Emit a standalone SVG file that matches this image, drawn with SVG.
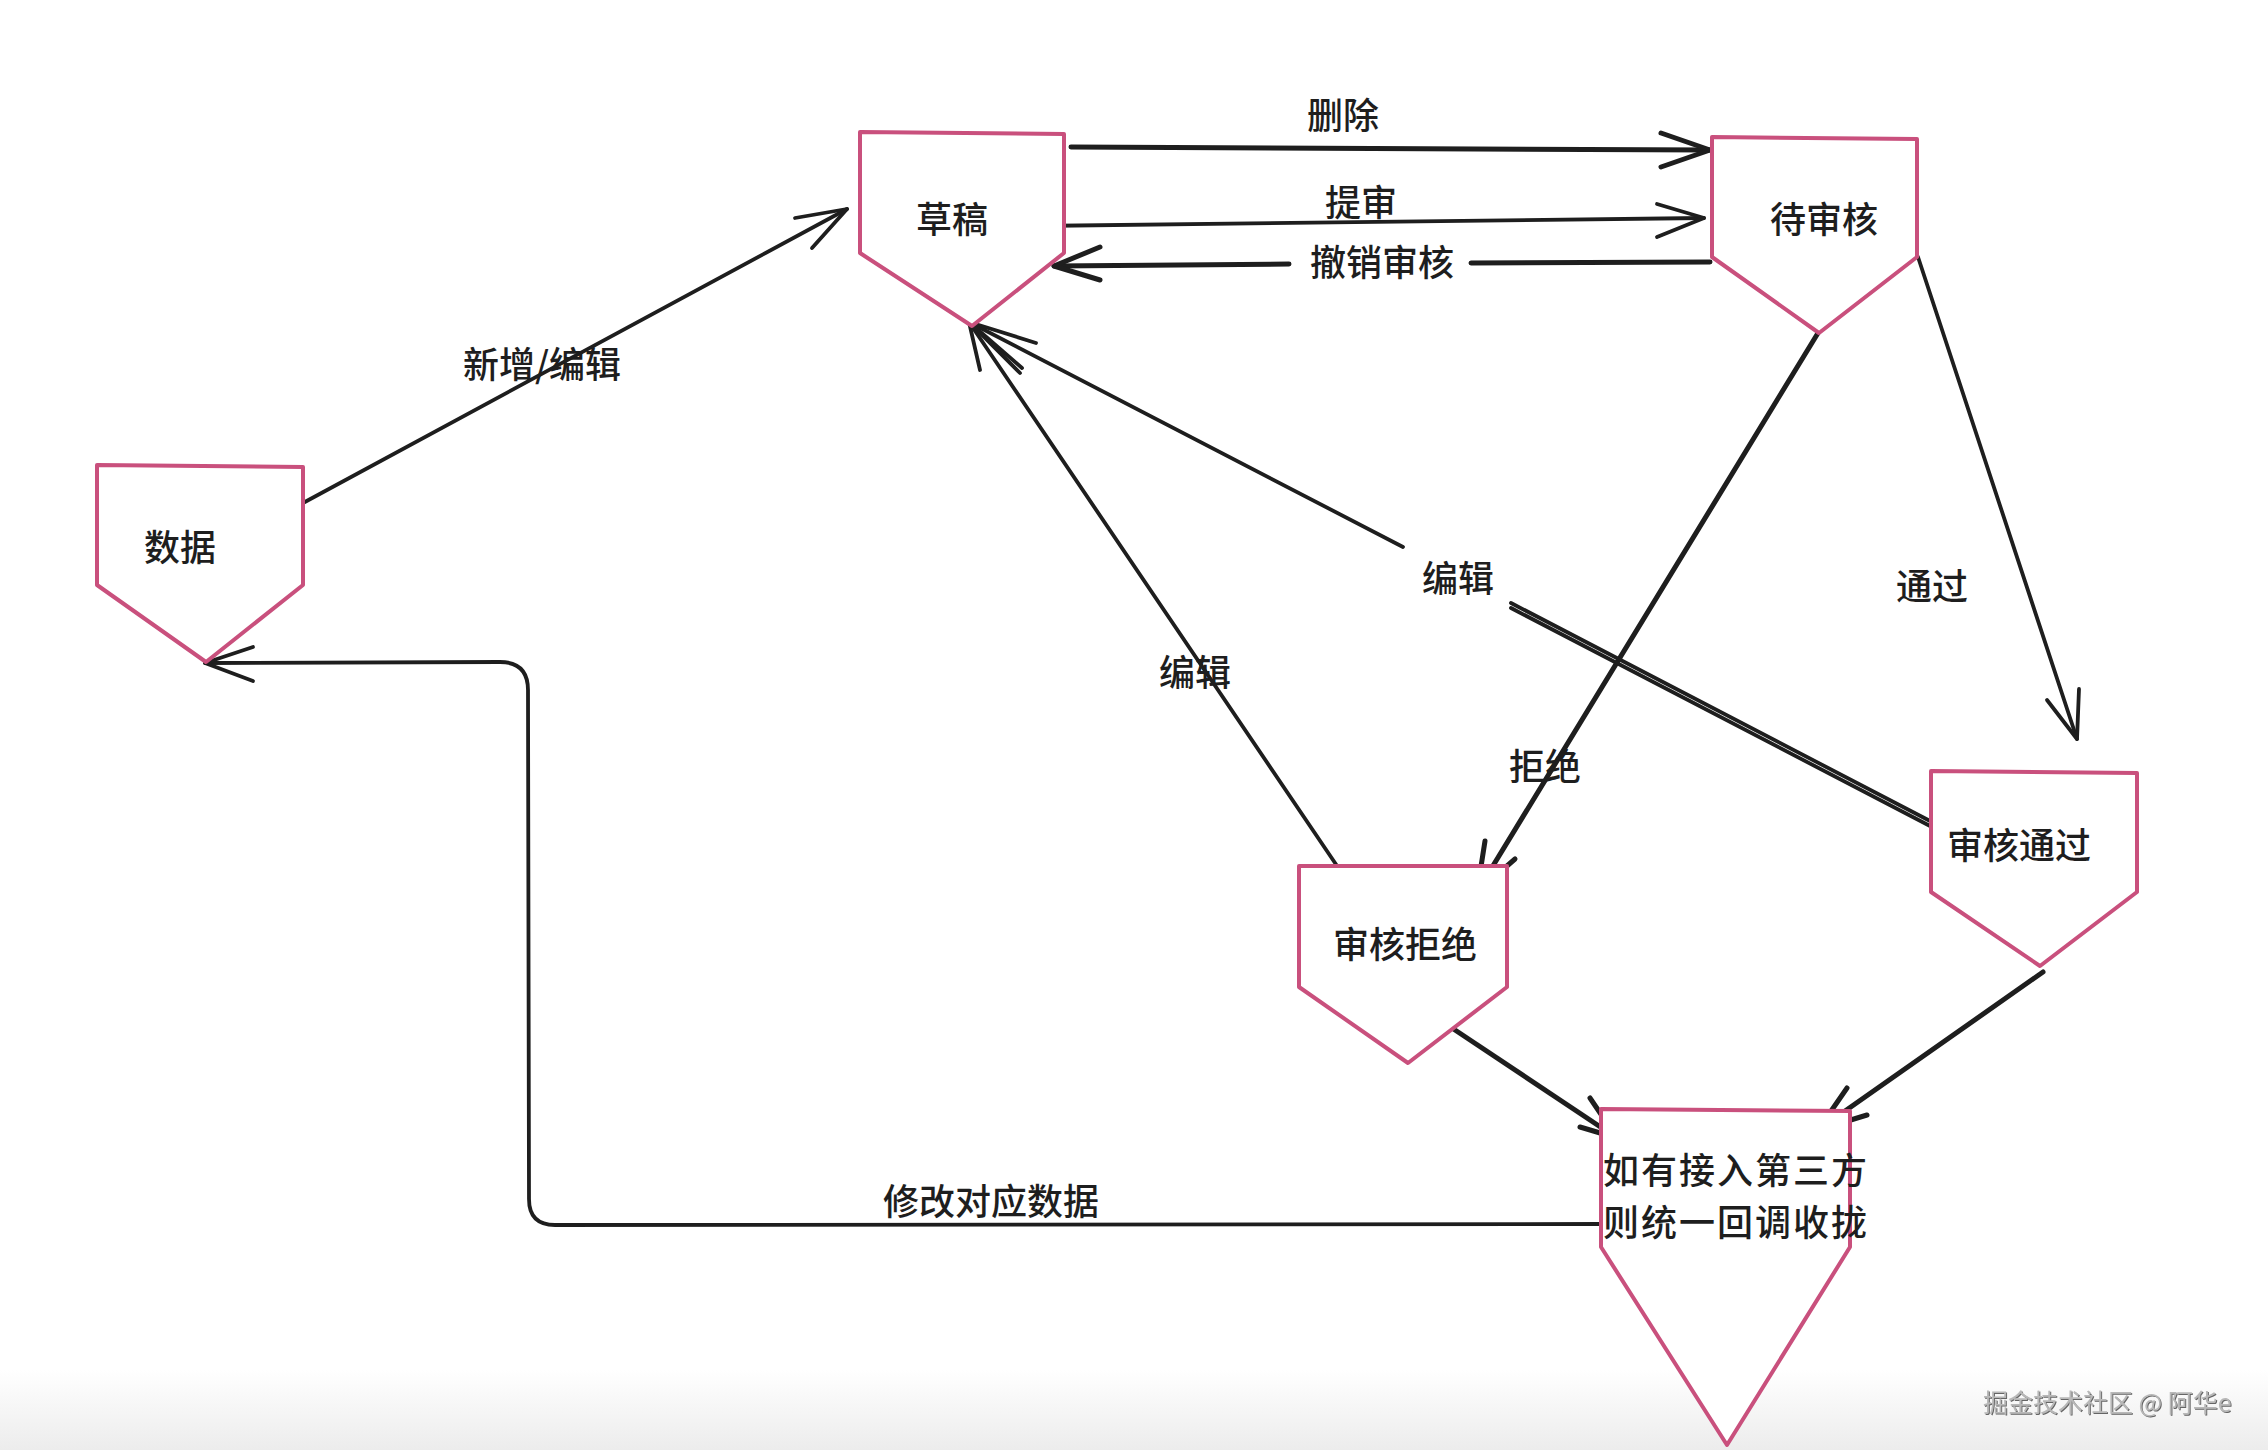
<svg xmlns="http://www.w3.org/2000/svg" width="2268" height="1450" viewBox="0 0 2268 1450">
<style>
.node{fill:#ffffff;stroke:#c9507d;stroke-width:4;stroke-linejoin:round}
.t{font-family:"Noto Sans CJK SC","Noto Sans",sans-serif;font-size:36px;font-weight:500;fill:#1e1e1e;text-anchor:middle;dominant-baseline:central}
.e{fill:none;stroke:#1e1e1e;stroke-width:3.8;stroke-linecap:round;stroke-linejoin:round}
.thick{stroke-width:5}
.wm{font-family:"Noto Sans CJK SC","Noto Sans",sans-serif;font-size:25px;fill:#b8b8b8;dominant-baseline:central}
</style>
<defs>
<linearGradient id="bg" x1="0" y1="0" x2="0" y2="1">
<stop offset="0" stop-color="#ffffff"/>
<stop offset="1" stop-color="#ececec"/>
</linearGradient>
<filter id="sh" x="-10%" y="-50%" width="120%" height="200%">
<feDropShadow dx="1" dy="1" stdDeviation="0.6" flood-color="#555555" flood-opacity="0.9"/>
</filter>
</defs>
<rect x="0" y="0" width="2268" height="1450" fill="#ffffff"/>
<rect x="0" y="1370" width="2268" height="80" fill="url(#bg)"/>

<g id="connectors">
<g id="e-delete">
<path class="e thick" d="M1071,147 L1710,150"/>
<path class="e thick" d="M1661,133 L1710,150 L1661,167"/>
<text class="t" x="1343" y="113">删除</text>
</g>
<g id="e-submit">
<path class="e" d="M1035,226 L1704,218"/>
<path class="e" d="M1657,204 L1704,218 L1657,237"/>
<text class="t" x="1361" y="200">提审</text>
</g>
<g id="e-revoke">
<path class="e thick" d="M1710,262 L1471,263"/>
<path class="e thick" d="M1289,264 L1054,266"/>
<path class="e thick" d="M1100,247 L1054,266 L1100,280"/>
<text class="t" x="1382" y="260">撤销审核</text>
</g>
<g id="e-add">
<path class="e" d="M303,503 L847,209"/>
<path class="e" d="M795,218 L847,209 L812,248"/>
<text class="t" x="542" y="362">新增/编辑</text>
</g>
<g id="e-reject">
<path class="e thick" d="M1818,333 L1477,892"/>
<path class="e thick" d="M1485,841 L1477,892 L1515,859"/>
<text class="t" x="1545" y="764">拒绝</text>
</g>
<g id="e-pass">
<path class="e" d="M1918,257 L2077,739"/>
<path class="e" d="M2047,700 L2077,739 L2079,689"/>
<text class="t" x="1932" y="584">通过</text>
</g>
<g id="e-edit-pass">
<path class="e" d="M1932,822 L1511,603"/>
<path class="e" stroke-width="2" d="M1932,827 L1511,608"/>
<path class="e" d="M1403,547 L969,322"/>
<path class="e" d="M1036,343 L969,322 L1022,368"/>
<text class="t" x="1458" y="576">编辑</text>
</g>
<g id="e-edit-reject">
<path class="e" d="M1375,922 L969,322"/>
<path class="e" d="M980,370 L969,322 L1020,373"/>
<text class="t" x="1195" y="670">编辑</text>
</g>
<g id="e-reject-cb">
<path class="e thick" d="M1452,1028 L1617,1138"/>
<path class="e thick" d="M1590,1098 L1617,1138 L1580,1127"/>
</g>
<g id="e-pass-cb">
<path class="e thick" d="M2043,972 L1818,1130"/>
<path class="e thick" d="M1847,1088 L1818,1130 L1867,1115"/>
</g>
<g id="e-modify">
<path class="e" d="M1601,1224 L555,1225 Q529,1225 529,1199 L528,690 Q528,662 500,662 L205,663"/>
<path class="e" d="M253,647 L205,663 L253,681"/>
<text class="t" x="991" y="1199">修改对应数据</text>
</g>
</g>

<g id="n-data">
<polygon class="node" points="97,465 303,467 303,585 206,662 97,585"/>
<text class="t" x="180" y="545">数据</text>
</g>
<g id="n-draft">
<polygon class="node" points="860,132 1064,134 1064,253 972,326 860,253"/>
<text class="t" x="952" y="217">草稿</text>
</g>
<g id="n-pending">
<polygon class="node" points="1712,137 1917,139 1917,257 1819,333 1712,257"/>
<text class="t" x="1824" y="217">待审核</text>
</g>
<g id="n-rejected">
<polygon class="node" points="1299,866 1507,866 1507,987 1408,1063 1299,987"/>
<text class="t" x="1405" y="942">审核拒绝</text>
</g>
<g id="n-passed">
<polygon class="node" points="1931,771 2137,773 2137,892 2040,966 1931,892"/>
<text class="t" x="2019" y="843">审核通过</text>
</g>
<g id="n-callback">
<polygon class="node" points="1601,1109 1850,1111 1850,1247 1727,1445 1601,1247"/>
<text class="t" x="1736" y="1168" font-size="34" letter-spacing="2">如有接入第三方</text>
<text class="t" x="1736" y="1220" font-size="34" letter-spacing="2">则统一回调收拢</text>
</g>

<text class="wm" x="1983" y="1401" filter="url(#sh)">掘金技术社区 @ 阿华e</text>
</svg>
